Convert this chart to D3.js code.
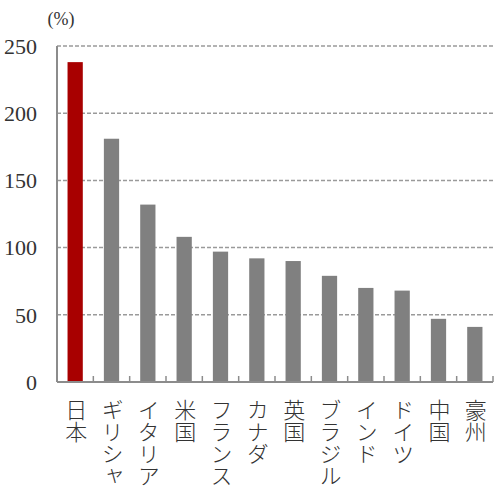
<!DOCTYPE html>
<html>
<head>
<meta charset="utf-8">
<script src="https://cdn.jsdelivr.net/npm/d3@7"></script>
<style>
  html, body { margin: 0; padding: 0; background: #fff; }
  svg { display: block; }
</style>
</head>
<body>
<svg id="chart"></svg>
<script>
// Data (%)
const countries = ["日本", "ギリシャ", "イタリア", "米国", "フランス", "カナダ", "英国", "ブラジル", "インド", "ドイツ", "中国", "豪州"];
const values = [238, 181, 132, 108, 97, 92, 90, 79, 70, 68, 47, 41];
const yTicks = [0, 50, 100, 150, 200, 250];
const unitLabel = "(%)";

const width = 500, height = 495;
const margin = {top: 46, right: 7, bottom: 113, left: 57};
const serifFont = "Liberation Serif, DejaVu Serif, serif";

const svg = d3.select("#chart")
    .attr("width", width)
    .attr("height", height);

const x = d3.scaleBand()
    .domain(countries)
    .range([margin.left, width - margin.right])
    .paddingInner(0.58)
    .paddingOuter(0.29);

const y = d3.scaleLinear()
    .domain([0, 250])
    .range([height - margin.bottom, margin.top]);

const axisColor = "#8c8c8c";

// Dashed grid lines
svg.append("g")
    .selectAll("line")
    .data(yTicks.filter(d => d > 0))
    .join("line")
    .attr("x1", margin.left)
    .attr("x2", width - margin.right)
    .attr("y1", d => y(d))
    .attr("y2", d => y(d))
    .style("stroke", "#9a9a9a")
    .style("stroke-width", 1.5)
    .style("stroke-dasharray", "4,2");

// Y tick labels
svg.append("g")
    .selectAll("text")
    .data(yTicks)
    .join("text")
    .attr("x", 37)
    .attr("y", d => y(d))
    .attr("dy", "0.35em")
    .attr("text-anchor", "end")
    .attr("font-family", serifFont)
    .attr("font-size", 22)
    .attr("fill", "#333")
    .text(d => d);

// Unit label
svg.append("text")
    .attr("x", 61)
    .attr("y", 25)
    .attr("text-anchor", "middle")
    .attr("font-family", serifFont)
    .attr("font-size", 18)
    .attr("fill", "#333")
    .text(unitLabel);

// Bars
svg.append("g")
    .selectAll("rect")
    .data(countries)
    .join("rect")
    .attr("x", d => x(d))
    .attr("width", x.bandwidth())
    .attr("y", (d, i) => y(values[i]))
    .attr("height", (d, i) => y(0) - y(values[i]))
    .style("fill", (d, i) => i === 0 ? "#a80000" : "#808080");

// Axes lines
svg.append("line")
    .attr("x1", margin.left)
    .attr("x2", margin.left)
    .attr("y1", y(250))
    .attr("y2", y(0))
    .style("stroke", axisColor)
    .style("stroke-width", 2);

svg.append("line")
    .attr("x1", margin.left)
    .attr("x2", width - margin.right)
    .attr("y1", y(0))
    .attr("y2", y(0))
    .style("stroke", axisColor)
    .style("stroke-width", 2);

// Category boundary ticks (pointing up)
svg.append("g")
    .selectAll("line")
    .data(countries)
    .join("line")
    .attr("x1", d => x(d) + x.bandwidth() / 2 + x.step() / 2)
    .attr("x2", d => x(d) + x.bandwidth() / 2 + x.step() / 2)
    .attr("y1", y(0))
    .attr("y2", y(0) - 6)
    .style("stroke", axisColor)
    .style("stroke-width", 1.5);

// Vertical category labels
svg.append("g")
    .selectAll("text")
    .data(countries)
    .join("text")
    .attr("x", d => x(d) + x.bandwidth() / 2 + 1)
    .attr("y", 399)
    .style("writing-mode", "vertical-rl")
    .style("text-orientation", "upright")
    .attr("font-family", "Noto Sans CJK JP, sans-serif")
    .attr("font-size", 22)
    .attr("font-weight", 300)
    .attr("fill", "#333")
    .text(d => d);
</script>
</body>
</html>
